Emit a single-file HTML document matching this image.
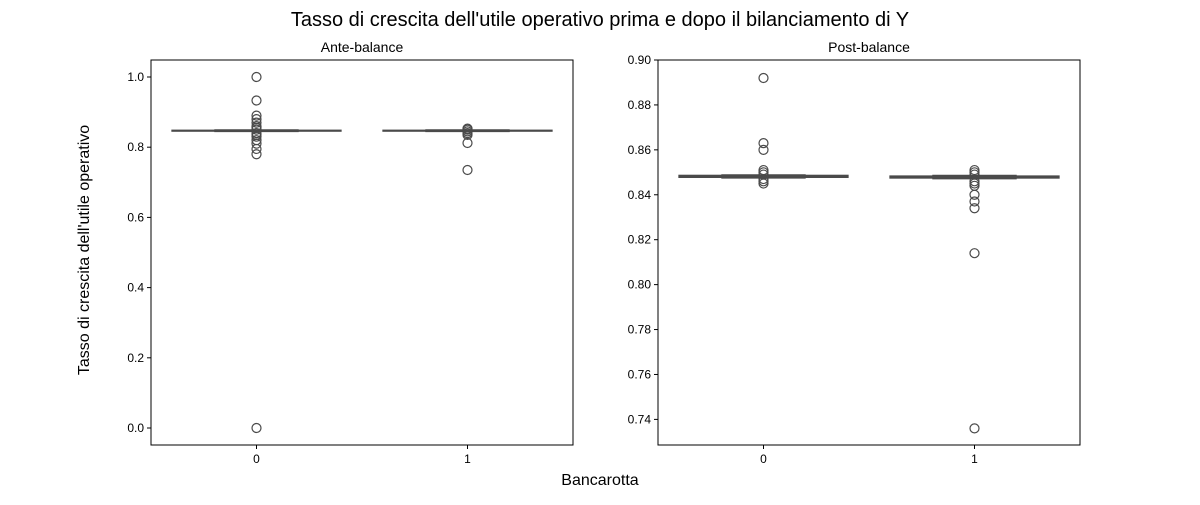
<!DOCTYPE html>
<html><head><meta charset="utf-8"><style>
body{margin:0;background:#fff;font-family:"Liberation Sans","DejaVu Sans",sans-serif;}
svg text{font-family:"Liberation Sans","DejaVu Sans",sans-serif;}
</style></head><body>
<svg id="c" width="1200" height="500">
<text x="600" y="26" font-size="20" text-anchor="middle">Tasso di crescita dell'utile operativo prima e dopo il bilanciamento di Y</text>
<text x="600" y="485" font-size="16" text-anchor="middle">Bancarotta</text>
<text transform="translate(89,250) rotate(-90)" font-size="16" text-anchor="middle">Tasso di crescita dell'utile operativo</text>
</svg>
<script>
const categories = ["0","1"];
const anteStats = [{q1:0.846,med:0.847,q3:0.848,lo:0.845,hi:0.849},{q1:0.846,med:0.847,q3:0.848,lo:0.845,hi:0.849}];
const anteOutliers = [[1.0,0.933,0.89,0.88,0.87,0.86,0.855,0.85,0.84,0.835,0.83,0.82,0.81,0.795,0.78,0.0],[0.853,0.85,0.845,0.84,0.835,0.812,0.735]];
const anteTicks = [0.0,0.2,0.4,0.6,0.8,1.0];
const postStats = [{q1:0.8478,med:0.8482,q3:0.8486,lo:0.8475,hi:0.8488},{q1:0.8475,med:0.8478,q3:0.8483,lo:0.8472,hi:0.8486}];
const postOutliers = [[0.892,0.863,0.860,0.851,0.850,0.849,0.847,0.846,0.845],[0.851,0.850,0.849,0.846,0.845,0.844,0.840,0.837,0.834,0.814,0.736]];
const postTicks = [0.74,0.76,0.78,0.80,0.82,0.84,0.86,0.88,0.90];

const svg=document.getElementById('c');
const NS='http://www.w3.org/2000/svg';
function mk(tag,attrs){const e=document.createElementNS(NS,tag);for(const k in attrs)e.setAttribute(k,attrs[k]);svg.appendChild(e);return e;}
function panel(x0,x1,y0,y1,vmin,vmax,stats,outs,ticks,title,dec,key){
  const ys=v=>y1-(v-vmin)/(vmax-vmin)*(y1-y0);
  const bw=(x1-x0)/categories.length;
  const xs=i=>x0+bw*(i+0.5);
  let t=mk('text',{x:(x0+x1)/2,y:y0-8,'font-size':14,'text-anchor':'middle'});t.textContent=title;
  
  
  ticks.forEach(v=>{const y=ys(v);
    let l=mk('line',{x1:x0-4,x2:x0,y1:y,y2:y,stroke:'#000'});
    
    
    let tx=mk('text',{x:x0-7,y:y+4,'font-size':12,'text-anchor':'end'});tx.textContent=v.toFixed(dec);
    
    
  });
  categories.forEach((c,i)=>{const x=xs(i);const s=stats[i];
    let l=mk('line',{x1:x,x2:x,y1:y1,y2:y1+4,stroke:'#000'});
    
    
    let tx=mk('text',{x:x,y:y1+18,'font-size':12,'text-anchor':'middle'});tx.textContent=c;
    
    
    const w=bw*0.8;
    let wh=mk('line',{x1:x,x2:x,y1:ys(s.lo),y2:ys(s.hi),stroke:'#4a4a4a','stroke-width':1.5});
    
    
    [s.lo,s.hi].forEach(v=>{let cp=mk('line',{x1:x-w/4,x2:x+w/4,y1:ys(v),y2:ys(v),stroke:'#4a4a4a','stroke-width':1.5});
      
      });
    let b=mk('rect',{x:x-w/2,y:ys(s.q3),width:w,height:Math.max(ys(s.q1)-ys(s.q3),0.5),fill:'#3a72b0',stroke:'#4a4a4a','stroke-width':1.5});
    
    
    let m=mk('line',{x1:x-w/2,x2:x+w/2,y1:ys(s.med),y2:ys(s.med),stroke:'#4a4a4a','stroke-width':1.5});
    
    
    outs[i].forEach(v=>{let p=mk('circle',{cx:x,cy:ys(v),r:4.5,fill:'none',stroke:'#4a4a4a','stroke-width':1.2});
      
      });
  });
  let f=mk('rect',{x:x0,y:y0,width:x1-x0,height:y1-y0,fill:'none',stroke:'#000','stroke-width':1});
  
  
}
panel(151,573,60,445,-0.0484,1.0484,anteStats,anteOutliers,anteTicks,'Ante-balance',1,'ante');
panel(658,1080,60,445,0.7286,0.9,postStats,postOutliers,postTicks,'Post-balance',2,'post');
</script>
</body></html>
